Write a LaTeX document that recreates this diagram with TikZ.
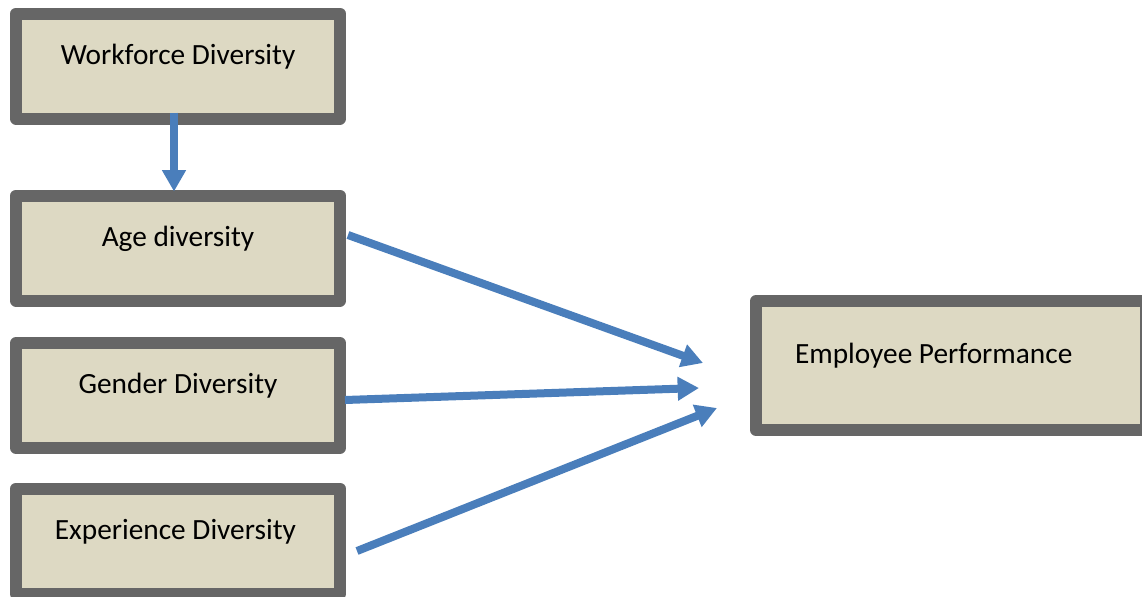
\documentclass[tikz,border=0pt]{standalone}
\usepackage{fontspec}
\setmainfont{Carlito}
\usetikzlibrary{arrows.meta, calc}
\definecolor{bordgray}{HTML}{666666}
\definecolor{boxfill}{HTML}{DDD9C3}
\definecolor{arrblue}{HTML}{4A7EBB}
\tikzset{%
    blk/.style={rectangle, draw = bordgray, fill = boxfill, line width = 9pt, line join = round, outer sep = 0pt, minimum width = 243pt, minimum height = 78.75pt, text height = 15pt, text depth = 18pt, font = \fontsize{22}{26}\selectfont},
    bigblk/.style={blk, minimum width = 292.5pt, minimum height = 96.75pt},
    arw/.style={line width = 6pt, draw = arrblue, -{Triangle[length=16pt, width=17pt]}},
}

\begin{document}
\begin{tikzpicture}[x=0.75pt, y=-0.75pt]
    \useasboundingbox (0,0) rectangle (1142,596);
    \clip (0,0) rectangle (1142,596);
    \node [blk] (wd) at (178,66) {Workforce Diversity};
    \node [blk] (age) at (178,248) {Age diversity};
    \node [blk] (gen) at (178,395.5) {Gender Diversity};
    \node [blk] (exp) at (178,541) {Experience Diversity\hspace{4pt}\mbox{}};
    \node [bigblk] (emp) at (951,365.5) {Employee Performance\hspace{26pt}\mbox{}};
    \coordinate (tipa) at ($(emp.west)+(-53,-2.5)$);
    \coordinate (tipg) at ($(emp.west)+(-57,22.5)$);
    \coordinate (tipe) at ($(emp.west)+(-39,42.5)$);
    \draw [arw] ($(wd.south)+(-4,-6)$) -- ($(age.north)+(-4,-4)$);
    \draw [arw] ($(age.east)+(8,-13)$) -- (tipa);
    \draw [arw] ($(gen.east)+(5,4.5)$) -- (tipg);
    \draw [arw] ($(exp.east)+(17,10)$) -- (tipe);
\end{tikzpicture}
\end{document}
